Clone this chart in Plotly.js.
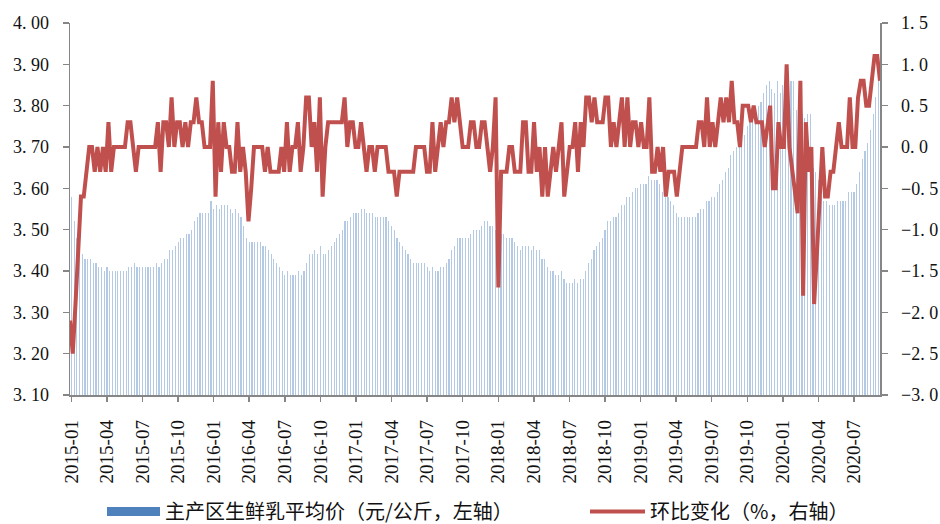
<!DOCTYPE html>
<html>
<head>
<meta charset="utf-8">
<script src="https://cdn.plot.ly/plotly-3.0.1.min.js"></script>
<style>
  html, body { margin: 0; padding: 0; background: #fff; }
  #chart { width: 940px; height: 524px; }
</style>
</head>
<body>
<div id="chart"></div>
<script>
// Weekly average raw-milk price in main producing areas (yuan/kg, left axis), 2015-01 .. 2020-09
const priceValues = [
  3.58,3.52,3.48,3.46,3.44,3.43,3.43,3.43,3.42,3.42,3.41,3.41,3.40,3.41,3.40,3.40,3.40,3.40,3.40,3.40,
  3.40,3.41,3.41,3.42,3.41,3.41,3.41,3.41,3.41,3.41,3.41,3.42,3.41,3.42,3.43,3.43,3.45,3.45,3.46,3.47,
  3.48,3.48,3.49,3.49,3.50,3.52,3.53,3.54,3.54,3.54,3.54,3.57,3.55,3.56,3.55,3.56,3.56,3.56,3.55,3.54,
  3.55,3.54,3.53,3.51,3.48,3.47,3.47,3.47,3.47,3.47,3.46,3.46,3.45,3.44,3.43,3.42,3.41,3.40,3.39,3.40,
  3.39,3.39,3.39,3.40,3.39,3.40,3.42,3.44,3.44,3.45,3.44,3.46,3.44,3.44,3.45,3.46,3.47,3.48,3.49,3.50,
  3.52,3.52,3.53,3.54,3.54,3.54,3.55,3.55,3.54,3.54,3.54,3.53,3.53,3.53,3.53,3.53,3.52,3.51,3.50,3.48,
  3.47,3.46,3.45,3.44,3.43,3.42,3.42,3.42,3.42,3.42,3.41,3.40,3.41,3.40,3.40,3.41,3.41,3.42,3.43,3.45,
  3.46,3.48,3.48,3.48,3.48,3.48,3.49,3.50,3.50,3.50,3.51,3.52,3.52,3.51,3.51,3.50,3.49,3.49,3.49,3.48,
  3.48,3.48,3.47,3.46,3.45,3.46,3.46,3.46,3.45,3.46,3.45,3.45,3.43,3.43,3.41,3.40,3.40,3.39,3.39,3.40,
  3.38,3.37,3.37,3.37,3.38,3.37,3.38,3.38,3.40,3.42,3.43,3.45,3.46,3.47,3.48,3.50,3.52,3.52,3.53,3.53,
  3.54,3.56,3.56,3.58,3.58,3.59,3.60,3.60,3.61,3.61,3.61,3.63,3.62,3.62,3.62,3.61,3.59,3.58,3.58,3.57,
  3.56,3.54,3.53,3.53,3.53,3.53,3.53,3.53,3.53,3.54,3.55,3.55,3.57,3.57,3.58,3.58,3.59,3.61,3.62,3.64,
  3.65,3.68,3.69,3.70,3.70,3.71,3.73,3.75,3.76,3.77,3.78,3.80,3.81,3.83,3.85,3.86,3.84,3.83,3.86,3.83,
  3.85,3.86,3.87,3.86,3.86,3.79,3.78,3.78,3.77,3.78,3.78,3.65,3.64,3.62,3.58,3.57,3.57,3.56,3.56,3.56,
  3.57,3.57,3.57,3.57,3.59,3.59,3.59,3.61,3.64,3.67,3.69,3.71,3.74,3.78,3.82,3.86
];

// Week-on-week change (%, right axis)
const changeValues = [
  -2.1,-2.5,-1.9,-1.2,-0.6,-0.6,-0.3,0,0,-0.3,0,-0.3,0,-0.3,0.3,-0.3,0,0,0,0,
  0,0.3,0.3,0,-0.3,0,0,0,0,0,0,0,0.3,-0.3,0.3,0.3,0,0.6,0,0.3,
  0.3,0,0.3,0,0.3,0.3,0.6,0.3,0.3,0,0,0,0.8,-0.6,0.3,-0.3,0.3,0,0,-0.3,
  -0.3,0.3,-0.3,0,-0.3,-0.9,-0.5,0,0,0,0,-0.3,0,-0.3,-0.3,-0.3,-0.3,0,-0.3,0.3,
  -0.3,0,0,0.3,-0.3,0,0.6,0.6,0,0.3,-0.3,0.6,-0.6,0,0.3,0.3,0.3,0.3,0.3,0.3,
  0.6,0,0.3,0.3,0,0,0.3,0,-0.3,0,0,-0.3,0,0,0,0,-0.3,-0.3,-0.3,-0.6,
  -0.3,-0.3,-0.3,-0.3,-0.3,-0.3,0,0,0,0,-0.3,-0.3,0.3,-0.3,0,0.3,0,0.3,0.3,0.6,
  0.3,0.6,0.3,0,0,0,0.3,0.3,0,0,0.3,0.3,0,-0.3,0,0.6,-1.7,-0.3,-0.3,-0.3,
  0,0,-0.3,-0.3,-0.3,0.3,0.3,-0.3,-0.3,0.3,-0.3,0,-0.6,0,-0.6,-0.3,0,-0.3,0,0.3,
  -0.6,-0.3,0,0,0.3,-0.3,0.3,0,0.6,0.6,0.3,0.6,0.3,0.3,0.3,0.6,0.6,0,0.3,0,
  0.3,0.6,0,0.6,0,0.3,0.3,0,0.3,0,0,0.6,-0.3,-0.3,0,-0.3,0,-0.6,-0.3,-0.3,
  -0.3,-0.6,-0.3,0,0,0,0,0,0,0.3,0.3,0,0.6,0,0.3,0,0.3,0.6,0.3,0.6,
  0.3,0.8,0.3,0.3,0,0.5,0.5,0.5,0.3,0.5,0.3,0.3,0.3,0,0.3,0.5,-0.5,-0.5,0.3,0,
  0,1.0,0,-0.3,-0.5,-0.8,0.8,-1.8,0.3,-0.3,0,-1.9,-1.3,-0.6,0,-0.6,-0.6,-0.3,-0.3,0,
  0.3,0,0,0,0.6,0,0,0.6,0.8,0.8,0.5,0.5,0.8,1.1,1.1,0.8
];

// Category-axis labels (one every 13 weeks)
const xTickLabels = ['2015-01','2015-04','2015-07','2015-10','2016-01','2016-04','2016-07','2016-10',
  '2017-01','2017-04','2017-07','2017-10','2018-01','2018-04','2018-07','2018-10',
  '2019-01','2019-04','2019-07','2019-10','2020-01','2020-04','2020-07'];
const leftTickValues = [3.1,3.2,3.3,3.4,3.5,3.6,3.7,3.8,3.9,4.0];
const leftTickLabels = ['3. 10','3. 20','3. 30','3. 40','3. 50','3. 60','3. 70','3. 80','3. 90','4. 00'];
const rightTickValues = [-3.0,-2.5,-2.0,-1.5,-1.0,-0.5,0,0.5,1.0,1.5];
const rightTickLabels = ['\u22123. 0','\u22122. 5','\u22122. 0','\u22121. 5','\u22121. 0','\u22120. 5','0. 0','0. 5','1. 0','1. 5'];
const seriesNames = ['主产区生鲜乳平均价（元/公斤，左轴）', '环比变化（%，右轴）'];

const weekIndex = priceValues.map((_, i) => i);
const lineIndex = changeValues.map((_, i) => i);
const tickPositions = xTickLabels.map((_, i) => i * 13);

const numFont = { family: 'Liberation Serif, DejaVu Serif, serif', size: 18, color: '#111111' };
const xFont = { family: 'Liberation Serif, DejaVu Serif, serif', size: 19, color: '#111111' };
const legendFont = { family: 'Noto Sans CJK SC, sans-serif', size: 20, color: '#111111' };
const axisGray = '#868686';

const traces = [
  { // legend swatch for the bar series
    type: 'scatter', mode: 'lines', x: [null], y: [null],
    name: seriesNames[0], line: { color: '#4F81BD', width: 9 },
    hoverinfo: 'skip', legend: 'legend'
  },
  {
    type: 'bar', x: weekIndex, y: priceValues, name: seriesNames[0],
    showlegend: false, width: 0.42,
    marker: { color: '#B3C9E4', line: { width: 0 } },
    xaxis: 'x', yaxis: 'y'
  },
  {
    type: 'scatter', mode: 'lines', x: lineIndex, y: changeValues, name: seriesNames[1],
    line: { color: '#C0504D', width: 4, shape: 'linear' },
    xaxis: 'x2', yaxis: 'y2', legend: 'legend2'
  }
];

const legendBase = {
  orientation: 'h', xref: 'container', yref: 'container',
  xanchor: 'left', yanchor: 'middle', y: 0.024,
  font: legendFont, bgcolor: 'rgba(0,0,0,0)'
};

const layout = {
  width: 940, height: 524,
  margin: { l: 70, r: 60, t: 23, b: 129, autoexpand: false },
  paper_bgcolor: '#ffffff', plot_bgcolor: '#ffffff',
  showlegend: true,
  bargap: 0,
  legend: Object.assign({}, legendBase, { x: 102 / 940, itemwidth: 53 }),
  legend2: Object.assign({}, legendBase, { x: 585 / 940, itemwidth: 55 }),
  xaxis: {
    range: [-0.5, priceValues.length - 0.5], automargin: false,
    tickmode: 'array', tickvals: tickPositions, ticktext: xTickLabels,
    tickangle: -90, tickfont: xFont,
    ticks: 'outside', ticklen: 5, tickcolor: axisGray, tickwidth: 1.5,
    showline: true, linecolor: axisGray, linewidth: 1.5,
    showgrid: false, zeroline: false, ticklabelstandoff: 11
  },
  xaxis2: {
    overlaying: 'x', range: [0, changeValues.length - 1],
    visible: false, anchor: 'y2'
  },
  yaxis: {
    range: [3.1, 4.0], automargin: false,
    tickmode: 'array', tickvals: leftTickValues, ticktext: leftTickLabels,
    tickfont: numFont,
    ticks: 'outside', ticklen: 6, tickcolor: axisGray, tickwidth: 1.5,
    showline: true, linecolor: axisGray, linewidth: 1.5,
    showgrid: false, zeroline: false, ticklabelstandoff: 10
  },
  yaxis2: {
    overlaying: 'y', side: 'right', anchor: 'x', automargin: false,
    range: [-3.0, 1.5],
    tickmode: 'array', tickvals: rightTickValues, ticktext: rightTickLabels,
    tickfont: numFont,
    ticks: 'outside', ticklen: 6, tickcolor: axisGray, tickwidth: 1.5,
    showline: true, linecolor: axisGray, linewidth: 1.5,
    showgrid: false, zeroline: false, ticklabelstandoff: 10
  }
};

Plotly.newPlot('chart', traces, layout, { displayModeBar: false, staticPlot: true });
</script>
</body>
</html>
